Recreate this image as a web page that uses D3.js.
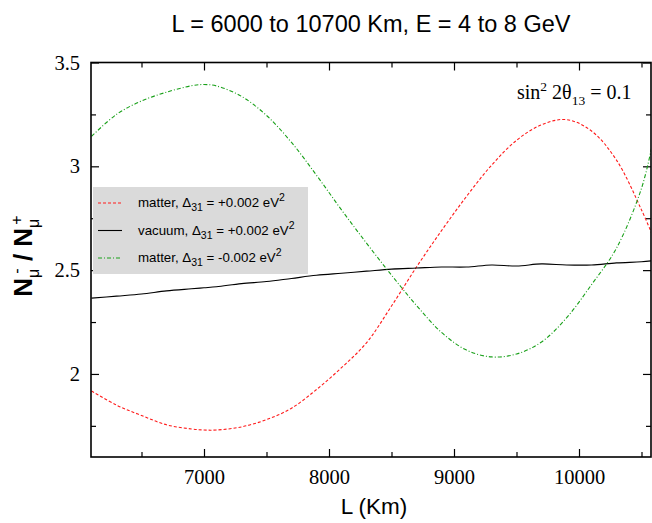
<!DOCTYPE html>
<html>
<head>
<meta charset="utf-8">
<script src="https://cdn.jsdelivr.net/npm/d3@7"></script>
<style>
  body { margin: 0; background: #fff; }
  .serif { font-family: "Liberation Serif", "Times New Roman", serif; }
  .sans { font-family: "Liberation Sans", Arial, sans-serif; }
</style>
</head>
<body>
<script>
var baseline = [6100, 6300, 6500, 6700, 6900, 7000, 7100, 7300, 7500, 7700, 7900, 8100, 8300,
                8500, 8700, 8900, 9100, 9300, 9500, 9700, 9900, 10100, 10300, 10500, 10580];

// N(mu-)/N(mu+) ratio, matter, delta31 = +0.002 eV^2
var matterPos = [1.918, 1.85, 1.80, 1.755, 1.735, 1.73, 1.73, 1.745, 1.78, 1.835, 1.925, 2.03, 2.15,
                 2.327, 2.515, 2.69, 2.855, 3.005, 3.125, 3.20, 3.225, 3.17, 3.03, 2.79, 2.68];
// vacuum, delta31 = +0.002 eV^2
var vacuumPos = [2.365, 2.375, 2.385, 2.40, 2.41, 2.415, 2.42, 2.435, 2.445, 2.46, 2.475, 2.485, 2.495,
                 2.505, 2.51, 2.515, 2.515, 2.525, 2.52, 2.53, 2.525, 2.525, 2.535, 2.54, 2.545];
// matter, delta31 = -0.002 eV^2
var matterNeg = [3.144, 3.25, 3.315, 3.357, 3.388, 3.394, 3.387, 3.337, 3.245, 3.115, 2.957, 2.79, 2.63,
                 2.476, 2.33, 2.20, 2.115, 2.082, 2.096, 2.154, 2.27, 2.43, 2.606, 2.894, 3.087];

var xMajor = [7000, 8000, 9000, 10000];
var xMinor = [6500, 7500, 8500, 9500, 10500];
var yMajor = [2, 2.5, 3, 3.5];
var yMinor = [1.75, 2.25, 2.75, 3.25];

var legendLabels = [
  {name: "matter, ", sign: "+", color: "#ff1a1a", dash: "3,2"},
  {name: "vacuum, ", sign: "+", color: "#000000", dash: null},
  {name: "matter, ", sign: "-", color: "#19a019", dash: "4,2,1,2"}
];

var W = 652, H = 523;
var margin = {top: 62.5, right: 1, bottom: 66, left: 91};
var w = W - margin.left - margin.right,
    h = H - margin.top - margin.bottom;

var svg = d3.select("body").append("svg")
    .attr("width", W)
    .attr("height", H);

var g = svg.append("g")
    .attr("transform", "translate(" + margin.left + "," + margin.top + ")");

var x = d3.scaleLinear().domain([6096, 10576]).range([0, w]);
var y = d3.scaleLinear().domain([1.6, 3.5]).range([h, 0]);

g.append("clipPath").attr("id", "clip")
  .append("rect").attr("width", w).attr("height", h);

// ---------- axes (ticks point inward, on all four sides) ----------
function styleAxis(sel) {
  sel.select(".domain").remove();
  sel.selectAll("line").attr("stroke", "#000").attr("stroke-width", 1.2);
  sel.selectAll("text").attr("fill", "#000").attr("class", "serif").style("font-size", "20.5px");
}

g.append("g").attr("transform", "translate(0," + h + ")")
  .call(d3.axisBottom(x).tickValues(xMajor).tickSize(-8).tickPadding(12).tickFormat(d3.format("d")))
  .call(styleAxis);
g.append("g").attr("transform", "translate(0," + h + ")")
  .call(d3.axisBottom(x).tickValues(xMinor).tickSize(-5).tickFormat(""))
  .call(styleAxis);
g.append("g")
  .call(d3.axisTop(x).tickValues(xMajor).tickSize(-8).tickFormat(""))
  .call(styleAxis);
g.append("g")
  .call(d3.axisTop(x).tickValues(xMinor).tickSize(-5).tickFormat(""))
  .call(styleAxis);

g.append("g")
  .call(d3.axisLeft(y).tickValues(yMajor).tickSize(-8).tickPadding(11).tickFormat(d3.format("")))
  .call(styleAxis);
g.append("g")
  .call(d3.axisLeft(y).tickValues(yMinor).tickSize(-5).tickFormat(""))
  .call(styleAxis);
g.append("g").attr("transform", "translate(" + w + ",0)")
  .call(d3.axisRight(y).tickValues(yMajor).tickSize(-8).tickFormat(""))
  .call(styleAxis);
g.append("g").attr("transform", "translate(" + w + ",0)")
  .call(d3.axisRight(y).tickValues(yMinor).tickSize(-5).tickFormat(""))
  .call(styleAxis);

// ---------- curves ----------
var line = d3.line()
    .x(function(d) { return x(d[0]); })
    .y(function(d) { return y(d[1]); })
    .curve(d3.curveCatmullRom.alpha(0.5));

var series = [matterPos, vacuumPos, matterNeg];
var curves = g.append("g").attr("clip-path", "url(#clip)");
series.forEach(function(vals, i) {
  curves.append("path")
    .datum(d3.zip(baseline, vals))
    .attr("fill", "none")
    .attr("stroke", legendLabels[i].color)
    .attr("stroke-width", 1.1)
    .attr("stroke-dasharray", legendLabels[i].dash)
    .attr("d", line);
});

// frame
g.append("rect")
  .attr("width", w).attr("height", h)
  .attr("fill", "none").attr("stroke", "#000").attr("stroke-width", 1.6);

// ---------- legend ----------
var legend = svg.append("g").attr("transform", "translate(93,187)");
legend.append("rect")
  .attr("width", 215).attr("height", 87)
  .attr("fill", "#dadada");

legendLabels.forEach(function(d, i) {
  var ly = 16 + i * 27.5;
  legend.append("line")
    .attr("x1", 5).attr("x2", 29).attr("y1", ly).attr("y2", ly)
    .attr("stroke", d.color).attr("stroke-width", 1.1)
    .attr("stroke-dasharray", d.dash);
  var t = legend.append("text").attr("class", "sans")
    .attr("x", 45).attr("y", ly + 4).style("font-size", "13.3px");
  t.append("tspan").text(d.name + "\u0394");
  t.append("tspan").attr("dy", 4).style("font-size", "10.5px").text("31");
  t.append("tspan").attr("dy", -4).text(" = " + d.sign + "0.002 eV");
  t.append("tspan").attr("dy", -6).style("font-size", "10.5px").text("2");
});

// ---------- texts ----------
svg.append("text").attr("class", "sans")
  .attr("x", 371).attr("y", 32)
  .attr("text-anchor", "middle")
  .style("font-size", "23.5px")
  .text("L = 6000 to 10700 Km, E = 4 to 8 GeV");

svg.append("text").attr("class", "sans")
  .attr("x", 374).attr("y", 514)
  .attr("text-anchor", "middle")
  .style("font-size", "22.5px")
  .text("L (Km)");

var yt = svg.append("text").attr("class", "sans")
  .attr("transform", "translate(32,256) rotate(-90)")
  .attr("text-anchor", "middle")
  .style("font-size", "26px")
  .style("font-weight", "bold");
yt.append("tspan").text("N");
yt.append("tspan").attr("dy", 7).style("font-size", "16px").style("font-weight", "normal").text("\u03bc");
yt.append("tspan").attr("dy", -17).attr("dx", -5).style("font-size", "16px").style("font-weight", "normal").text("-");
yt.append("tspan").attr("dy", 10).text(" / N");
yt.append("tspan").attr("dy", 7).style("font-size", "16px").style("font-weight", "normal").text("\u03bc");
yt.append("tspan").attr("dy", -17).attr("dx", -6).style("font-size", "16px").style("font-weight", "normal").text("+");

var ann = svg.append("text").attr("class", "serif")
  .attr("x", 517).attr("y", 99)
  .style("font-size", "20px");
ann.append("tspan").text("sin");
ann.append("tspan").attr("dy", -8).style("font-size", "13.5px").text("2");
ann.append("tspan").attr("dy", 8).text(" 2\u03b8");
ann.append("tspan").attr("dy", 6).style("font-size", "13.5px").text("13");
ann.append("tspan").attr("dy", -6).text(" = 0.1");
</script>
</body>
</html>
